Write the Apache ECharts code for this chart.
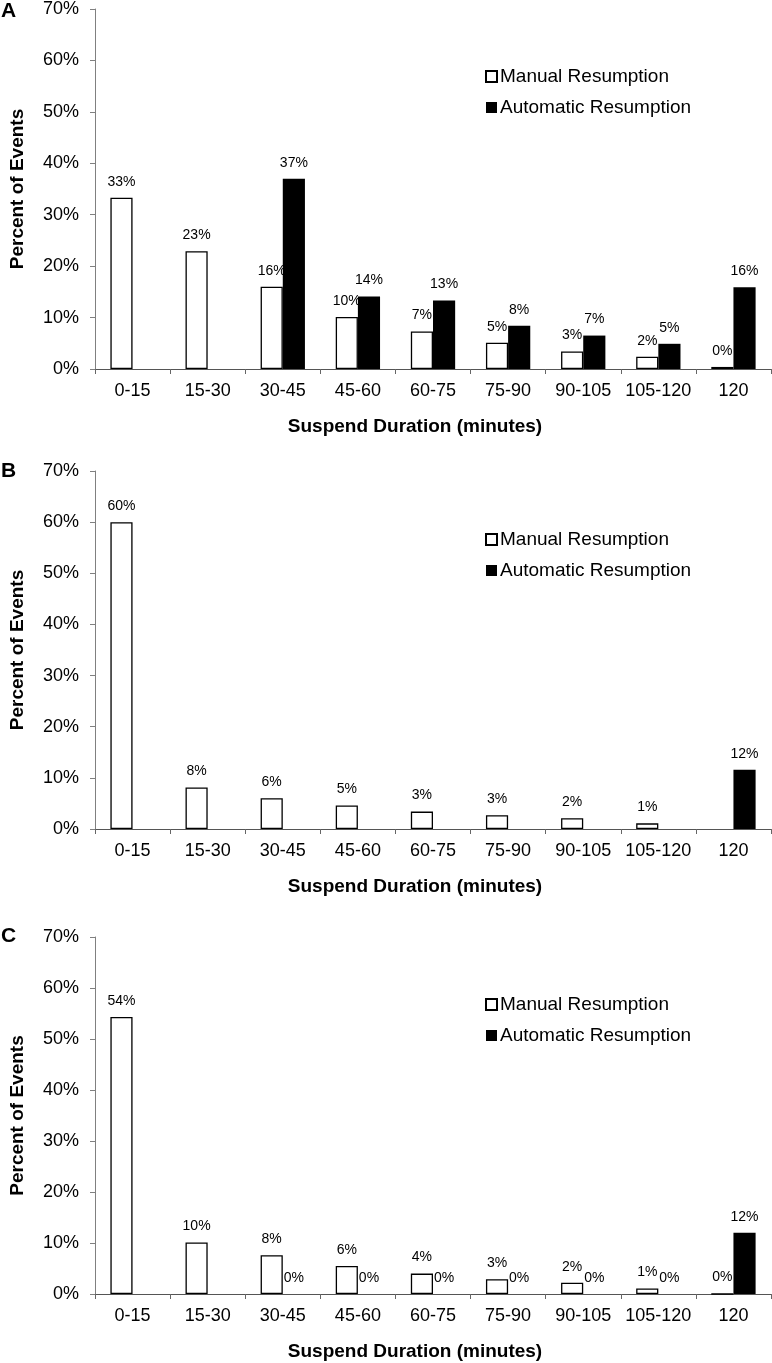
<!DOCTYPE html>
<html>
<head>
<meta charset="utf-8">
<script src="https://cdn.jsdelivr.net/npm/echarts@6/dist/echarts.min.js"></script>
<style>
html,body{margin:0;padding:0;background:#fff;}
#chart{width:772px;height:1363px;}
</style>
</head>
<body>
<div id="chart"></div>
<script>
// ---- data ----
const categories = ['0-15','15-30','30-45','45-60','60-75','75-90','90-105','105-120','120'];
const seriesNames = ['Manual Resumption','Automatic Resumption'];
const panelLetters = ['A','B','C'];
const yTicks = [0,10,20,30,40,50,60,70];

const manualA = [33.3, 22.9, 16.0, 10.1, 7.3, 5.1, 3.4, 2.4, 0.4];
const autoA   = ['-', '-', 37.0, 14.1, 13.3, 8.4, 6.5, 4.9, 15.9];

const manualB = [60.0, 8.1, 6.0, 4.6, 3.4, 2.7, 2.1, 1.1, '-'];
const autoB   = ['-', '-', '-', '-', '-', '-', '-', '-', 11.6];

const manualC = [54.3, 10.1, 7.6, 5.5, 4.0, 2.9, 2.2, 1.1, 0];
const autoC   = ['-', '-', 0, 0, 0, 0, 0, 0, 12.0];

const panels = [
  {manual: manualA, auto: autoA},
  {manual: manualB, auto: autoB},
  {manual: manualC, auto: autoC}
];

// ---- layout ----
const FONT = '"Liberation Sans", Arial, sans-serif';
const gridTops = [9, 471, 937];
const gridHeights = [360, 358, 357];
const legendTops = [67, 530, 995];
const letterTops = [1, 461, 926];

const grids = [], xAxes = [], yAxes = [], series = [], legends = [], titles = [];

panels.forEach((p, i) => {
  grids.push({left: 90, width: 681, top: gridTops[i], height: gridHeights[i], containLabel: false});
  xAxes.push({
    type: 'category', gridIndex: i, data: categories,
    axisLine: {show: true, lineStyle: {color: '#555', width: 1}},
    axisTick: {show: true, alignWithLabel: false, length: 5, lineStyle: {color: '#666'}},
    axisLabel: {fontFamily: FONT, fontSize: 18, color: '#000', margin: 13, interval: 0},
    splitLine: {show: false},
    name: 'Suspend Duration (minutes)', nameLocation: 'middle', nameGap: 48,
    nameTextStyle: {fontFamily: FONT, fontSize: 19, fontWeight: 'bold', color: '#000', padding: [0, 36, 0, 0]}
  });
  yAxes.push({
    type: 'value', gridIndex: i, min: 0, max: 70, interval: 10,
    axisLine: {show: true, lineStyle: {color: '#808080', width: 1}},
    axisTick: {show: true, inside: false, length: 5, lineStyle: {color: '#808080'}},
    axisLabel: {fontFamily: FONT, fontSize: 18, color: '#000', margin: 16, formatter: v => v + '%'},
    splitLine: {show: false},
    name: 'Percent of Events', nameLocation: 'middle', nameGap: 68,
    nameTextStyle: {fontFamily: FONT, fontSize: 19, fontWeight: 'bold', color: '#000'}
  });
  const labelCfg = {
    show: true, position: 'top', distance: 9,
    fontFamily: FONT, fontSize: 14, color: '#000',
    formatter: q => Math.round(q.value) + '%'
  };
  series.push({
    name: seriesNames[0], type: 'bar', xAxisIndex: i, yAxisIndex: i,
    data: p.manual, barGap: '0%', barCategoryGap: '41%',
    itemStyle: {color: '#fff', borderColor: '#000', borderWidth: 1.3},
    label: labelCfg, animation: false
  });
  series.push({
    name: seriesNames[1], type: 'bar', xAxisIndex: i, yAxisIndex: i,
    data: p.auto, barGap: '0%', barCategoryGap: '41%',
    itemStyle: {color: '#000', borderWidth: 0},
    label: labelCfg, animation: false
  });
  legends.push({
    data: seriesNames, orient: 'vertical', left: 485, top: legendTops[i],
    itemWidth: 11, itemHeight: 11, itemGap: 12, padding: 0,
    icon: 'rect',
    textStyle: {fontFamily: FONT, fontSize: 19, color: '#000', padding: [0, 0, 0, -2]}
  });
  titles.push({
    text: panelLetters[i], left: 1, top: letterTops[i], padding: 0,
    textStyle: {fontFamily: FONT, fontSize: 21, fontWeight: 'bold', color: '#000'}
  });
});

const chart = echarts.init(document.getElementById('chart'), null, {renderer: 'canvas'});
chart.setOption({
  backgroundColor: '#fff',
  animation: false,
  title: titles,
  legend: legends,
  grid: grids,
  xAxis: xAxes,
  yAxis: yAxes,
  series: series
});
</script>
</body>
</html>
